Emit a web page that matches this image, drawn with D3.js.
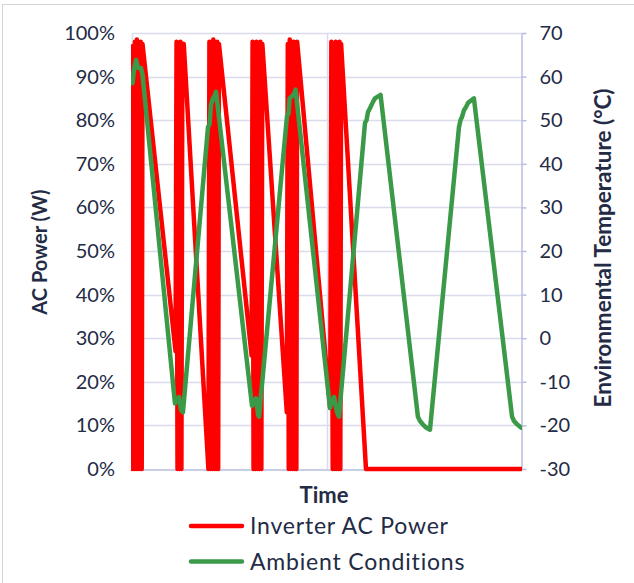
<!DOCTYPE html>
<html>
<head>
<meta charset="utf-8">
<script src="https://cdn.jsdelivr.net/npm/d3@7/dist/d3.min.js"></script>
<style>
  html, body { margin: 0; padding: 0; background: #fff; }
  svg { display: block; }
  text { font-family: Lato, "Open Sans", sans-serif; fill: #232b45; }
</style>
</head>
<body>
<svg id="chart" width="634" height="583"></svg>
<script>
// Inverter AC output (% of rated) sampled over the test, time in hours
const powerTime = [
  0, 0.5, 1.0, 1.5, 2.0, 2.5, 3.0, 3.5, 4.0, 4.5, 5.0, 5.4,
  22.4, 22.9, 23.4, 23.9, 24.4, 24.9, 25.4, 25.9, 26.6,
  39.3, 39.8, 40.3, 40.8, 41.3, 41.8, 42.3, 42.8, 43.3, 43.8, 44.3, 44.7,
  61.5, 62.0, 62.5, 63.0, 63.5, 64.0, 64.5, 65.0, 65.5, 66.0, 66.5, 67.0,
  79.6, 80.1, 80.6, 81.1, 81.6, 82.1, 82.6, 83.1, 83.6, 84.1, 84.5, 84.9,
  101.9, 102.5, 103.2, 103.7, 104.2, 104.7, 105.2, 105.7, 106.2, 106.7, 107.1, 107.5,
  120.3, 200
];
const powerPct = [
  0, 97, 0, 98, 0, 98.5, 0, 97.5, 0, 98, 0, 97.5,
  27, 98, 0, 97.5, 0, 98, 0, 97, 97.5,
  0, 98, 0, 97, 0, 98.5, 0, 97.5, 0, 98, 0, 97.5,
  26, 98, 0, 97.5, 0, 98, 0, 97, 0, 98, 0, 97.5,
  13, 97.5, 0, 98.5, 0, 97.5, 0, 98, 0, 97, 0, 98,
  14, 98, 0, 97, 0, 98, 0, 97.5, 0, 98, 0, 97.5,
  0, 0
];

// Ambient chamber temperature (°C) over the same time axis
const tempTime = [
  0.3, 1.0, 2.1, 3.1, 4.6, 5.4,
  22.1, 23.1, 24.2, 25.2, 26.2,
  39.1, 39.9, 40.6, 41.6, 42.4, 43.2,
  61.7, 62.7, 63.8, 64.8, 65.3,
  79.7, 80.5, 81.0, 82.3, 83.3, 84.1,
  101.8, 102.8, 103.9, 105.4, 106.4,
  119.8, 120.6, 121.3, 122.4, 123.9, 124.9, 127.8,
  147.0, 148.1, 149.6, 151.2, 153.2,
  168.1, 168.9, 169.7, 170.7, 171.7, 172.8, 175.8,
  195.4, 196.4, 197.9, 200
];
const tempC = [
  58.5, 61.5, 63.8, 62, 62, 60.5,
  -15, -14, -13.5, -16.5, -17,
  48.5, 49, 53.5, 55, 55.5, 56.5,
  -15.5, -14.5, -13.8, -17.5, -18,
  51, 51.5, 55, 55.5, 56, 57,
  -16, -14.5, -13.5, -17, -18,
  49.4, 50, 51.8, 52.8, 54.2, 55, 55.8,
  -18, -19, -19.8, -20.5, -21,
  48.4, 50, 50.8, 52.3, 53, 54, 55,
  -18, -19, -19.7, -20.5
];

const powerTicks = [0, 10, 20, 30, 40, 50, 60, 70, 80, 90, 100];
const tempTicks = [-30, -20, -10, 0, 10, 20, 30, 40, 50, 60, 70];
const timeGrid = [0, 100, 200];

const seriesNames = ["Inverter AC Power", "Ambient Conditions"];
const seriesColors = ["#ff0000", "#3a9a48"];

const svg = d3.select("#chart");
const plot = { left: 132, right: 521, top: 33, bottom: 469 };

const x = d3.scaleLinear().domain([0, 200]).range([plot.left, plot.right]);
const yP = d3.scaleLinear().domain([0, 100]).range([plot.bottom, plot.top]);
const yT = d3.scaleLinear().domain([-30, 70]).range([plot.bottom, plot.top]);

// outer chart border
svg.append("rect")
  .attr("x", 2.5).attr("y", 4.5).attr("width", 660).attr("height", 620)
  .attr("fill", "none").attr("stroke", "#d4d4d4").attr("stroke-width", 1);

const gridColor = "#d9dcec";
const axisColor = "#b7bedb";

// horizontal gridlines
svg.append("g").selectAll("line").data(powerTicks.filter(d => d > 0)).join("line")
  .attr("x1", plot.left).attr("x2", plot.right)
  .attr("y1", d => Math.round(yP(d)) + 0.5).attr("y2", d => Math.round(yP(d)) + 0.5)
  .attr("stroke", gridColor).attr("stroke-width", 1.5);

// vertical gridlines
svg.append("g").selectAll("line").data(timeGrid.slice(0, 2)).join("line")
  .attr("x1", d => Math.round(x(d)) + 0.5).attr("x2", d => Math.round(x(d)) + 0.5)
  .attr("y1", plot.top).attr("y2", plot.bottom)
  .attr("stroke", gridColor).attr("stroke-width", 1.5);

// left axis labels (no axis line)
const leftAxis = d3.axisLeft(yP).tickValues(powerTicks).tickSize(0).tickPadding(17)
  .tickFormat(d => d + "%");
const gl = svg.append("g").attr("transform", `translate(${plot.left},0)`).call(leftAxis);
gl.select(".domain").remove();
gl.selectAll("text").attr("font-size", 20).attr("fill", "#232b45")
  .style("font-family", "Lato, sans-serif");

// bottom axis line
const bottomAxis = d3.axisBottom(x).tickValues([]).tickSizeOuter(0);
const gb = svg.append("g").attr("transform", `translate(0,${plot.bottom + 0.5})`).call(bottomAxis);
gb.select(".domain").attr("stroke", axisColor).attr("stroke-width", 1.5);

// right axis
const rightAxis = d3.axisRight(yT).tickValues(tempTicks).tickSize(5).tickSizeOuter(0).tickPadding(13)
  .tickFormat(d => String(d));
const gr = svg.append("g").attr("transform", `translate(${plot.right + 0.5},0)`).call(rightAxis);
gr.select(".domain").attr("stroke", axisColor).attr("stroke-width", 1.5);
gr.selectAll(".tick line").attr("stroke", axisColor).attr("stroke-width", 1.5);
gr.selectAll("text").attr("font-size", 20).attr("fill", "#232b45")
  .style("font-family", "Lato, sans-serif");

// series
svg.append("defs").append("clipPath").attr("id", "plotClip")
  .append("rect").attr("x", plot.left - 1).attr("y", 0)
  .attr("width", plot.right - plot.left + 2).attr("height", 583);

const lines = svg.append("g").attr("clip-path", "url(#plotClip)");

const powerLine = d3.line().x(d => x(d[0])).y(d => yP(d[1]));
lines.append("path")
  .datum(d3.zip(powerTime, powerPct))
  .attr("d", powerLine)
  .attr("fill", "none").attr("stroke", seriesColors[0]).attr("stroke-width", 4.5)
  .attr("stroke-linejoin", "round").attr("stroke-linecap", "round");

const tempLine = d3.line().x(d => x(d[0])).y(d => yT(d[1]));
lines.append("path")
  .datum(d3.zip(tempTime, tempC))
  .attr("d", tempLine)
  .attr("fill", "none").attr("stroke", seriesColors[1]).attr("stroke-width", 4.5)
  .attr("stroke-linejoin", "round").attr("stroke-linecap", "round");

// axis titles
svg.append("text")
  .attr("transform", "translate(47,252) rotate(-90)")
  .attr("text-anchor", "middle").attr("font-size", 20).attr("font-weight", "bold")
  .text("AC Power (W)");

svg.append("text")
  .attr("transform", "translate(611,248) rotate(-90)")
  .attr("text-anchor", "middle").attr("font-size", 22.5).attr("font-weight", "bold")
  .text("Environmental Temperature (°C)");

svg.append("text")
  .attr("x", 324).attr("y", 503)
  .attr("text-anchor", "middle").attr("font-size", 22).attr("font-weight", "bold")
  .text("Time");

// legend
const legend = svg.append("g");
seriesNames.forEach((name, i) => {
  const cy = 526 + i * 35.5;
  legend.append("line")
    .attr("x1", 191).attr("x2", 242).attr("y1", cy).attr("y2", cy)
    .attr("stroke", seriesColors[i]).attr("stroke-width", 4.5).attr("stroke-linecap", "round");
  legend.append("text")
    .attr("x", 250).attr("y", cy + 8)
    .attr("font-size", 23).attr("letter-spacing", 0.8)
    .text(name);
});
</script>
</body>
</html>
